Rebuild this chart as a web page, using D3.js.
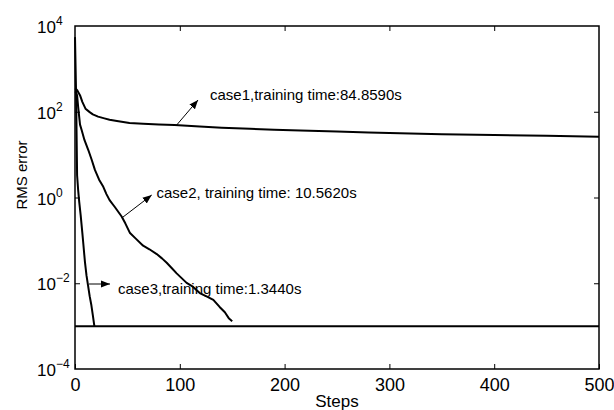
<!DOCTYPE html>
<html><head><meta charset="utf-8">
<script src="https://cdn.jsdelivr.net/npm/d3@7"></script>
<style>body{margin:0;background:#fff}svg{display:block;font-family:"Liberation Sans",Arial,sans-serif}</style>
</head><body><svg id="c" width="614" height="410"></svg>
<script>
const case1Steps = [0,1,2,3,5,7,10,14,17,22,28,33,40,52,65,80,95,119,140,167,190,215,250,280,310,350,400,450,500];
const case1Values = [350,340,320,290,235,170,118,98,87,77,70,65,61,54.7,52.5,50.5,49,45.5,42.5,40,38,36.6,34.5,33,31.4,30,28.7,27.4,26.2];
const case2Steps = [0,1,2,3,4.8,6.4,9,12.7,16,19,23,27,30,33,38,44.5,48,52.5,58,65,71,78,83,87.5,92,97,102,106.5,112,119,126,132,138,143,147,150];
const case2Values = [300,290,240,130,50,37,22,12.8,7.5,4.4,2.6,1.77,1.2,0.87,0.6,0.36,0.25,0.148,0.11,0.075,0.062,0.048,0.038,0.03,0.023,0.017,0.013,0.0102,0.0085,0.0059,0.0049,0.0041,0.0028,0.0021,0.0015,0.0013];
const case3Steps = [0,1,2,3,4,5.4,7,8,9.5,11,12.4,14,15.5,17,18,18.5];
const case3Values = [5500,300,3.3,1.5,0.8,0.39,0.15,0.08,0.031,0.015,0.009,0.005,0.0032,0.0018,0.0012,0.001];
const goalSteps = [0,500];
const goalValues = [0.001,0.001];
const xTicks = [0,100,200,300,400,500];
const yTickExp = [4,2,0,-2,-4];
const annTexts = ["case1,training time:84.8590s","case2, training time: 10.5620s","case3,training time:1.3440s"];
const annTailStep = [97,45.8,13.4];
const annTailVal = [49,0.35,0.0096];
const annHeadStep = [117.4,73.2,33.4];
const annHeadVal = [188,1.14,0.0096];
const annTextStep = [128.8,77.8,41];
const annTextVal = [188,0.97,0.0056];

const svg = d3.select("#c");
const L=75,R=599,T=26,B=369;
const x = d3.scaleLinear().domain([0,500]).range([L,R]);
const y = d3.scaleLog().domain([1e-4,1e4]).range([B,T]);

const line = d3.line().x(d=>x(d[0])).y(d=>y(d[1]));
const series = [[case1Steps,case1Values],[case2Steps,case2Values],[case3Steps,case3Values],[goalSteps,goalValues]];
series.forEach(([s,v])=>{
  svg.append("path").datum(s.map((d,i)=>[d,v[i]])).attr("d",line)
    .attr("fill","none").attr("stroke","#000").attr("stroke-width",2).attr("stroke-linejoin","round");
});

// frame
svg.append("rect").attr("x",L).attr("y",T).attr("width",R-L).attr("height",B-T)
  .attr("fill","none").attr("stroke","#000").attr("stroke-width",1.5);

// axes ticks (inward)
const xb = d3.axisBottom(x).tickValues(xTicks).tickSize(-5).tickPadding(9).tickFormat(d3.format("d"));
const gx = svg.append("g").attr("transform",`translate(0,${B})`).call(xb);
gx.select(".domain").remove();
gx.selectAll("line").attr("stroke","#000");
gx.selectAll("text").attr("font-size",18).attr("font-family","Liberation Sans, Arial").attr("fill","#000");
const xt = d3.axisTop(x).tickValues(xTicks.slice(1,-1)).tickSize(-5).tickFormat("");
const gxt = svg.append("g").attr("transform",`translate(0,${T})`).call(xt);
gxt.select(".domain").remove();
const yr = d3.axisRight(y).tickValues(yTickExp.slice(1,-1).map(e=>Math.pow(10,e))).tickSize(-5).tickFormat("");
const gyr = svg.append("g").attr("transform",`translate(${R},0)`).call(yr);
gyr.select(".domain").remove();
const yl = d3.axisLeft(y).tickValues(yTickExp.slice(1,-1).map(e=>Math.pow(10,e))).tickSize(-5).tickFormat("");
const gyl = svg.append("g").attr("transform",`translate(${L},0)`).call(yl);
gyl.select(".domain").remove();

// y tick labels, left aligned
yTickExp.forEach(e=>{
  const t = svg.append("text").attr("x",37).attr("y",y(Math.pow(10,e))+7).attr("font-size",17);
  t.append("tspan").text("10");
  t.append("tspan").attr("dy",-8).attr("font-size",12).text(e<0?"\u2212"+(-e):String(e));
});

svg.append("text").attr("x",x(250)).attr("y",407).attr("text-anchor","middle").attr("font-size",17).text("Steps");
svg.append("text").attr("transform",`translate(27,175) rotate(-90)`).attr("text-anchor","middle").attr("font-size",15).text("RMS error");

// annotations
const defs = svg.append("defs");
defs.append("marker").attr("id","ah").attr("viewBox","0 0 10 10").attr("refX",10).attr("refY",5)
  .attr("markerWidth",9).attr("markerHeight",9).attr("markerUnits","userSpaceOnUse").attr("orient","auto")
  .append("path").attr("d","M0,1L10,5L0,9Z").attr("fill","#000");
annTexts.forEach((txt,i)=>{
  svg.append("line").attr("x1",x(annTailStep[i])).attr("y1",y(annTailVal[i]))
    .attr("x2",x(annHeadStep[i])).attr("y2",y(annHeadVal[i])).attr("stroke","#000").attr("stroke-width",1)
    .attr("marker-end","url(#ah)");
  svg.append("text").attr("x",x(annTextStep[i])).attr("y",y(annTextVal[i])).attr("font-size",15).text(txt);
});
</script></body></html>
